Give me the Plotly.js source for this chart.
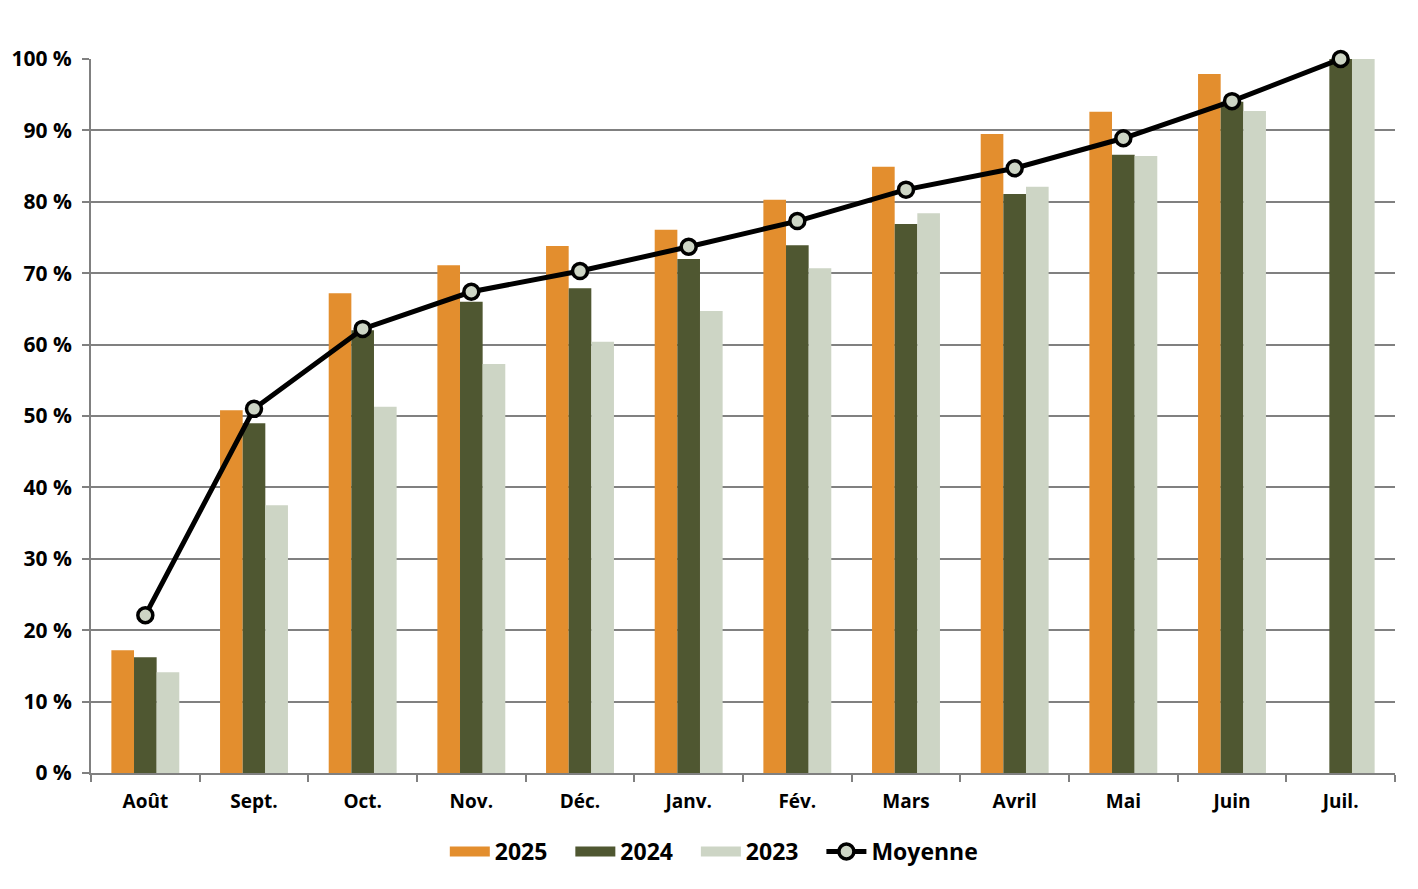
<!DOCTYPE html>
<html>
<head>
<meta charset="utf-8">
<script src="https://cdn.plot.ly/plotly-3.0.1.min.js"></script>
<style>
  html, body { margin: 0; padding: 0; background: #fff; }
  #chart { width: 1418px; height: 889px; }
</style>
</head>
<body>
<div id="chart"></div>
<script>
  // mois de l'année scolaire
  var mois = ['Août', 'Sept.', 'Oct.', 'Nov.', 'Déc.', 'Janv.', 'Fév.', 'Mars', 'Avril', 'Mai', 'Juin', 'Juil.'];

  // valeurs cumulées (%)
  var v2025 = [17.2, 50.8, 67.2, 71.1, 73.8, 76.1, 80.3, 84.9, 89.5, 92.6, 97.9, null];
  var v2024 = [16.2, 49.0, 62.0, 66.0, 67.9, 72.0, 73.9, 76.9, 81.1, 86.6, 94.0, 100];
  var v2023 = [14.1, 37.5, 51.3, 57.3, 60.4, 64.7, 70.7, 78.4, 82.1, 86.4, 92.7, 100];
  var moyenne = [22.1, 51.0, 62.2, 67.4, 70.3, 73.7, 77.3, 81.7, 84.7, 88.9, 94.1, 100];

  var series = ['2025', '2024', '2023'];
  var couleurs = ['#E38E2E', '#4F5731', '#CDD5C5'];
  var valeurs = [v2025, v2024, v2023];

  var police = 'Open Sans, Lato, sans-serif';
  var espace = '\u00a0\u00a0\u00a0'; // un peu d'air entre les entrées de légende

  var data = [];
  series.forEach(function (nom, i) {
    data.push({ type: 'bar', name: nom, x: mois, y: valeurs[i], legendgroup: nom, showlegend: false,
                marker: { color: couleurs[i] } });
  });
  // entrées de légende en rectangles larges (comme dans l'original)
  series.forEach(function (nom, i) {
    data.push({ type: 'scatter', mode: 'lines', name: nom + espace, x: [null], y: [null], legendgroup: nom,
                line: { color: couleurs[i], width: 15 } });
  });
  data.push({
    type: 'scatter', mode: 'lines+markers', name: 'Moyenne', x: mois, y: moyenne,
    cliponaxis: false,
    line: { color: '#000', width: 5 },
    marker: { symbol: 'circle', size: 15, color: '#CDD5C5', line: { color: '#000', width: 3.5 } }
  });

  var layout = {
    width: 1418,
    height: 889,
    margin: { l: 91, r: 23, t: 59, b: 116 },
    paper_bgcolor: '#fff',
    plot_bgcolor: '#fff',
    barmode: 'group',
    bargap: 0.375,
    bargroupgap: 0,
    font: { family: police, color: '#000', size: 18, weight: 'bold' },
    showlegend: true,
    legend: {
      orientation: 'h',
      x: 0.478, xanchor: 'center',
      y: -0.11, yanchor: 'middle',
      font: { size: 23, family: police, weight: 'bold' },
      itemwidth: 40,
      tracegroupgap: 0,
      traceorder: 'normal'
    },
    xaxis: {
      type: 'category',
      range: [-0.5, 11.5],
      showgrid: false,
      showline: true,
      linecolor: '#808080',
      linewidth: 2,
      ticks: 'outside',
      tickson: 'boundaries',
      ticklen: 7,
      tickcolor: '#808080',
      tickwidth: 2,
      ticklabelstandoff: 10,
      tickfont: { size: 19, family: police, weight: 'bold' }
    },
    yaxis: {
      range: [0, 100],
      dtick: 10,
      ticksuffix: ' %',
      showgrid: true,
      gridcolor: '#808080',
      gridwidth: 2,
      showline: true,
      linecolor: '#808080',
      linewidth: 2,
      ticks: 'outside',
      ticklen: 7,
      tickcolor: '#808080',
      tickwidth: 2,
      zeroline: false,
      ticklabelstandoff: 6,
      tickfont: { size: 21, family: police, weight: 'bold' }
    }
  };

  Plotly.newPlot('chart', data, layout, { displayModeBar: false, staticPlot: true });
</script>
</body>
</html>
